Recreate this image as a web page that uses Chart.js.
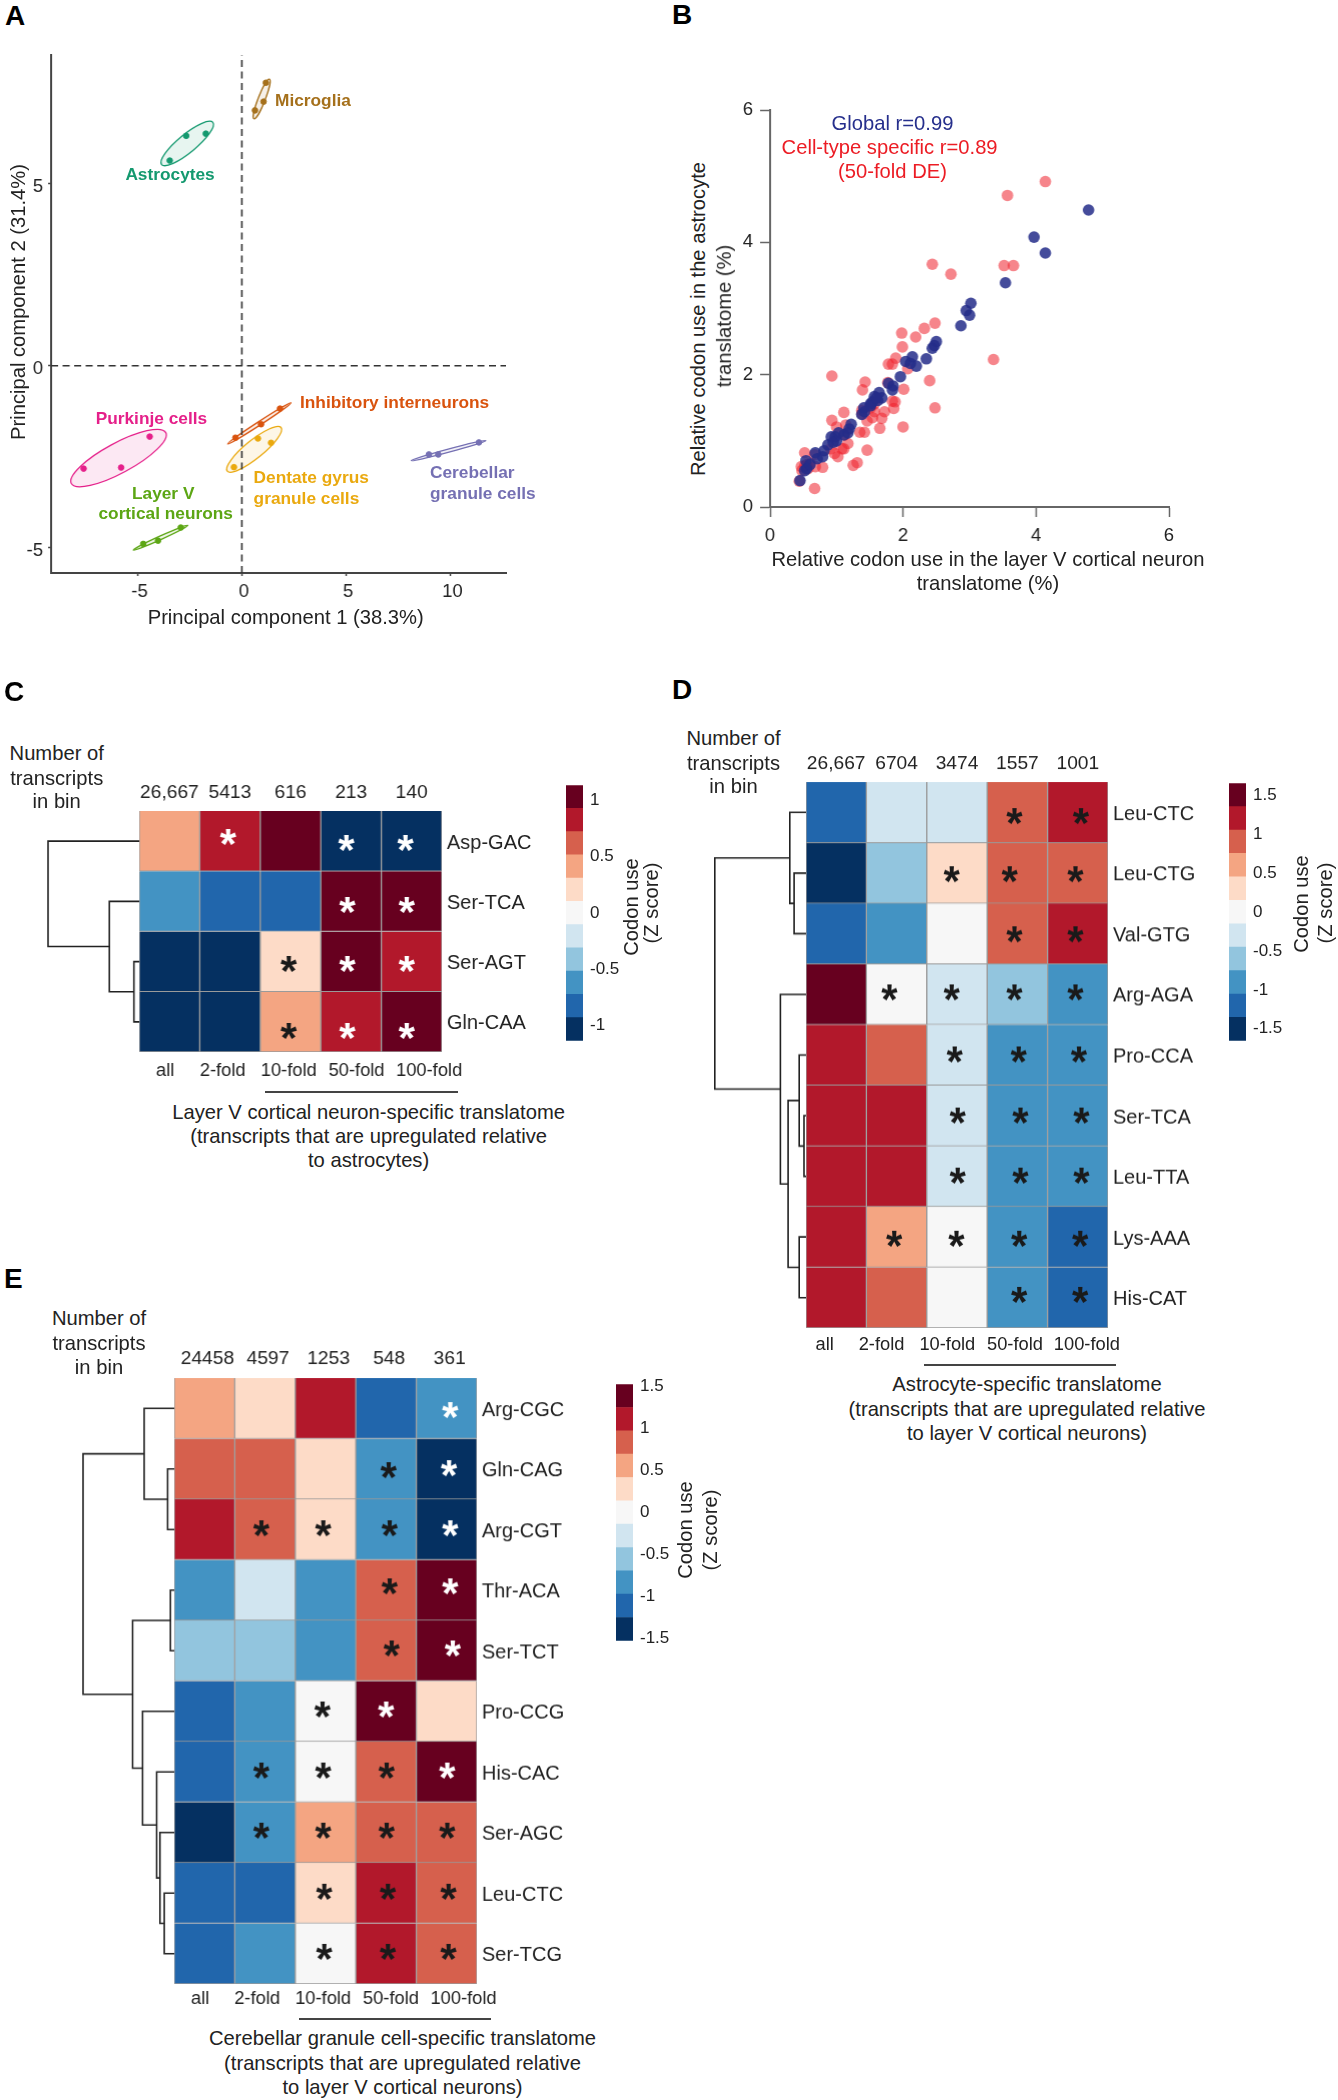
<!DOCTYPE html>
<html>
<head>
<meta charset="utf-8">
<title>Codon use in cell-type-specific translatomes</title>
<style>
  html, body { margin: 0; padding: 0; background: #fff; }
  #page { position: relative; width: 1338px; height: 2100px; overflow: hidden; font-family: "Liberation Sans", Arial, sans-serif; color: #222; }
  canvas { position: absolute; }
  .txt { position: absolute; white-space: nowrap; line-height: 1; }
  .rule { position: absolute; height: 2px; background: #444; }
</style>
<script src="https://cdn.jsdelivr.net/npm/chart.js@4"></script>
</head>
<body>
<div id="page"></div>
<script>
// panel A
const cellTypes = ["Microglia", "Astrocytes", "Inhibitory interneurons", "Dentate gyrus granule cells", "Purkinje cells", "Layer V cortical neurons", "Cerebellar granule cells"];
const pc1Values = [
  [1.15, 1.04, 0.63],
  [-2.67, -1.73, -3.46],
  [1.83, 0.92, -0.31],
  [0.77, 1.40, -0.38],
  [-4.42, -5.79, -7.59],
  [-2.93, -4.02, -4.73],
  [11.37, 9.42, 8.97],
];
const pc2Values = [
  [7.78, 7.26, 7.02],
  [6.32, 6.38, 5.64],
  [-1.18, -1.61, -1.98],
  [-2.0, -2.12, -2.79],
  [-1.95, -2.80, -2.83],
  [-4.45, -4.81, -4.90],
  [-2.11, -2.44, -2.44],
];
// ends of each ellipse's long axis: x1, y1, x2, y2
const ellipseEnds = [
  [1.32, 7.88, 0.58, 6.79],
  [-1.39, 6.69, -3.85, 5.53],
  [2.36, -1.02, -0.68, -2.15],
  [1.88, -1.70, -0.70, -2.90],
  [-3.65, -1.84, -8.18, -3.24],
  [-2.59, -4.39, -5.21, -5.07],
  [11.71, -2.06, 8.12, -2.61],
];
const pcaTicksX = [-5, 0, 5, 10];
const pcaTicksY = [-5, 0, 5];

// panel B
const globalCodonUse = [
  [4.79,4.49],[3.97,4.08],[4.14,3.84],[3.54,3.39],[3.02,3.08],[2.95,2.97],[3.00,2.90],[2.87,2.74],[2.50,2.50],[2.47,2.44],
  [2.44,2.40],[2.35,2.24],[2.14,2.27],[2.04,2.20],[2.11,2.17],[2.20,2.13],[1.96,1.97],[1.85,1.83],[1.78,1.87],[1.84,1.77],
  [1.64,1.73],[1.57,1.67],[1.68,1.65],[1.62,1.61],[1.54,1.59],[1.51,1.56],[1.41,1.50],[1.42,1.44],[1.38,1.40],[1.51,1.53],
  [1.22,1.25],[1.19,1.18],[1.17,1.12],[1.11,1.09],[0.98,1.06],[0.92,1.06],[1.00,1.00],[0.95,0.98],[0.87,0.94],[0.81,0.85],
  [0.79,0.76],[0.68,0.82],[0.71,0.73],[0.54,0.70],[0.55,0.58],[0.52,0.55],[0.45,0.40],[0.60,0.64],[1.03,1.12],[1.60,1.65],
];
const specificCodonUse = [
  [4.14,4.92],[3.57,4.71],[2.44,3.67],[2.72,3.52],[3.52,3.65],[3.66,3.65],[2.48,2.78],[2.32,2.70],[2.19,2.57],[1.98,2.63],
  [1.99,2.42],[1.89,2.25],[3.36,2.23],[1.84,2.16],[1.78,2.16],[2.07,2.09],[2.40,1.91],[0.93,1.98],[1.43,1.89],[1.77,1.88],
  [1.39,1.77],[2.01,1.78],[2.48,1.50],[1.84,1.60],[1.88,1.59],[1.86,1.49],[1.72,1.44],[1.57,1.44],[1.51,1.53],[1.38,1.46],
  [1.68,1.34],[1.54,1.35],[1.46,1.30],[1.11,1.43],[0.93,1.31],[2.00,1.21],[1.65,1.19],[1.00,1.21],[1.14,1.24],[1.12,1.09],
  [1.35,1.13],[1.42,1.13],[1.17,0.96],[1.11,0.88],[0.91,0.88],[0.97,0.81],[1.02,0.76],[1.46,0.86],[1.31,0.67],[1.25,0.63],
  [0.52,0.82],[0.67,0.79],[0.47,0.61],[0.79,0.60],[0.68,0.61],[0.55,0.64],[0.57,0.58],[0.48,0.55],[0.44,0.39],[0.67,0.28],
  [1.38,1.41],[1.51,1.50],[1.08,0.88],[0.60,0.66],[0.52,0.62],[1.57,1.56],
];
const codonTicks = [0, 2, 4, 6];

// heatmaps
const foldLabels = ["all", "2-fold", "10-fold", "50-fold", "100-fold"];
const rampColors = ["#053061", "#2166ac", "#4393c3", "#92c5de", "#d1e5f0", "#f7f7f7", "#fddbc7", "#f4a582", "#d6604d", "#b2182b", "#67001f"];

const codonsC = ["Asp-GAC", "Ser-TCA", "Ser-AGT", "Gln-CAA"];
const countsC = ["26,667", "5413", "616", "213", "140"];
const zScoresC = [
  [0.41, 0.82, 1.03, -1.03, -1.03],
  [-0.62, -0.82, -0.82, 1.03, 1.03],
  [-1.03, -1.03, 0.21, 1.03, 0.82],
  [-1.03, -1.03, 0.41, 0.82, 1.03],
];
const starsC = [
  [1.47,0.40,"w"],[3.42,0.49,"w"],[4.40,0.49,"w"],[3.44,1.53,"w"],[4.42,1.53,"w"],[2.47,2.51,"k"],
  [3.44,2.51,"w"],[4.42,2.51,"w"],[2.47,3.62,"k"],[3.44,3.62,"w"],[4.42,3.62,"w"],
];
const treeC = [91, 0, [29.8, 1, [5.3, 2, 3]]];
const foldTicksC = [0.43, 1.38, 2.47, 3.59, 4.79];
const legendTicksC = [-1, -0.5, 0, 0.5, 1];

const codonsD = ["Leu-CTC", "Leu-CTG", "Val-GTG", "Arg-AGA", "Pro-CCA", "Ser-TCA", "Leu-TTA", "Lys-AAA", "His-CAT"];
const countsD = ["26,667", "6704", "3474", "1557", "1001"];
const zScoresD = [
  [-1.2, -0.3, -0.3, 0.9, 1.2],
  [-1.5, -0.6, 0.3, 0.9, 0.9],
  [-1.2, -0.9, 0, 0.9, 1.2],
  [1.5, 0, -0.3, -0.6, -0.9],
  [1.2, 0.9, -0.3, -0.9, -0.9],
  [1.2, 1.2, -0.3, -0.9, -0.9],
  [1.2, 1.2, -0.3, -0.9, -0.9],
  [1.2, 0.6, 0, -0.9, -1.2],
  [1.2, 0.9, 0, -0.9, -1.2],
];
const starsD = [
  [3.45,0.53,"k"],[4.55,0.53,"k"],[2.41,1.49,"k"],[3.37,1.49,"k"],[4.46,1.49,"k"],[3.45,2.48,"k"],[4.46,2.48,"k"],
  [1.38,3.43,"k"],[2.41,3.43,"k"],[3.45,3.43,"k"],[4.46,3.43,"k"],[2.46,4.46,"k"],[3.52,4.46,"k"],[4.52,4.46,"k"],
  [2.51,5.46,"k"],[3.55,5.46,"k"],[4.56,5.46,"k"],[2.51,6.46,"k"],[3.55,6.46,"k"],[4.56,6.46,"k"],
  [1.46,7.50,"k"],[2.49,7.50,"k"],[3.53,7.50,"k"],[4.54,7.50,"k"],[3.53,8.43,"k"],[4.54,8.43,"k"],
];
const treeD = [91.2, [16.2, 0, [11.9, 1, 2]], [25.6, 3, [17.9, [6.8, 4, [2, 5, 6]], [6.8, 7, 8]]]];
const foldTicksD = [0.31, 1.25, 2.34, 3.46, 4.65];
const legendTicksD = [-1.5, -1, -0.5, 0, 0.5, 1, 1.5];

const codonsE = ["Arg-CGC", "Gln-CAG", "Arg-CGT", "Thr-ACA", "Ser-TCT", "Pro-CCG", "His-CAC", "Ser-AGC", "Leu-CTC", "Ser-TCG"];
const countsE = ["24458", "4597", "1253", "548", "361"];
const zScoresE = [
  [0.56, 0.28, 1.11, -1.11, -0.83],
  [0.83, 0.83, 0.28, -0.83, -1.39],
  [1.11, 0.83, 0.28, -0.83, -1.39],
  [-0.83, -0.28, -0.83, 0.83, 1.39],
  [-0.56, -0.56, -0.83, 0.83, 1.39],
  [-1.11, -0.83, 0, 1.39, 0.28],
  [-1.11, -0.83, 0, 0.83, 1.39],
  [-1.39, -0.83, 0.56, 0.83, 0.83],
  [-1.11, -1.11, 0.28, 1.11, 0.83],
  [-1.11, -0.83, 0, 1.11, 0.83],
];
const starsE = [
  [4.56,0.49,"w"],[3.54,1.48,"k"],[4.54,1.46,"w"],[1.44,2.45,"k"],[2.46,2.45,"k"],[3.56,2.45,"k"],[4.56,2.45,"w"],
  [3.56,3.41,"k"],[4.56,3.41,"w"],[3.59,4.43,"k"],[4.60,4.43,"w"],[2.45,5.44,"k"],[3.50,5.44,"w"],
  [1.44,6.44,"k"],[2.46,6.44,"k"],[3.51,6.44,"k"],[4.51,6.44,"w"],[1.44,7.44,"k"],[2.46,7.44,"k"],[3.51,7.44,"k"],[4.51,7.44,"k"],
  [2.48,8.44,"k"],[3.53,8.44,"k"],[4.53,8.44,"k"],[2.48,9.43,"k"],[3.53,9.43,"k"],[4.53,9.43,"k"],
];
const treeE = [91, [30, 0, [6.6, 1, 2]], [41.5, [3.8, 3, 4], [31.6, 5, [17.5, 6, [14.2, 7, [9.9, 8, 9]]]]]];
const foldTicksE = [0.43, 1.37, 2.46, 3.58, 4.78];
const legendTicksE = [-1.5, -1, -0.5, 0, 0.5, 1, 1.5];

const page = document.getElementById("page");
const FONT = '"Liberation Sans", Arial, sans-serif';
const TEXT_SIZE = 20.2;
const LETTER_SIZE = 28;
const cellColors = ["#a5701b", "#14996f", "#d9530e", "#eaa90f", "#e5208a", "#5ca614", "#7570b3"];
const ellipseMinor = [3.5, 9, 1.8, 9, 15, 1.8, 1.6];

Chart.defaults.font.family = FONT;
Chart.defaults.animation = false;
Chart.defaults.plugins.legend.display = false;
Chart.defaults.plugins.tooltip.enabled = false;

function addText(text, x, y, opts = {}) {
  const el = document.createElement("div");
  el.className = "txt";
  el.textContent = text;
  el.style.left = x + "px";
  el.style.top = y + "px";
  el.style.fontSize = (opts.size || TEXT_SIZE) + "px";
  el.style.color = opts.color || "#222";
  if (opts.bold) el.style.fontWeight = "700";
  const shiftX = opts.align === "left" ? "0" : "-50%";
  el.style.transform = `translate(${shiftX}, -50%)` + (opts.rotate ? ` rotate(${opts.rotate}deg)` : "");
  page.appendChild(el);
}

function addRule(x1, x2, y) {
  const el = document.createElement("div");
  el.className = "rule";
  el.style.left = x1 + "px";
  el.style.width = x2 - x1 + "px";
  el.style.top = y - 1 + "px";
  page.appendChild(el);
}

// canvas sized so the plot area lands on rect, with the given margins round it
function makeCanvas(rect, margin) {
  const canvas = document.createElement("canvas");
  const width = rect.right - rect.left + margin.left + margin.right;
  const height = rect.bottom - rect.top + margin.top + margin.bottom;
  canvas.width = width;
  canvas.height = height;
  canvas.style.left = rect.left - margin.left + "px";
  canvas.style.top = rect.top - margin.top + "px";
  canvas.style.width = width + "px";
  canvas.style.height = height + "px";
  page.appendChild(canvas);
  return canvas;
}

function fixedTicks(values) {
  return (scale) => { scale.ticks = values.map((value) => ({ value })); };
}

function axisOptions(opts) {
  return {
    type: "linear",
    position: opts.position,
    min: opts.min,
    max: opts.max,
    afterBuildTicks: fixedTicks(opts.ticks),
    afterFit: (scale) => {
      if (opts.position === "left") scale.width = opts.size;
      else scale.height = opts.size;
    },
    border: { display: true, color: opts.color, width: 2 },
    grid: { display: true, drawOnChartArea: false, drawTicks: true, tickLength: opts.tickLength, tickColor: opts.color, tickWidth: 1.5 },
    ticks: { autoSkip: false, maxRotation: 0, padding: opts.padding, labelOffset: opts.labelOffset || 0, color: "#222", font: { size: 18.5 }, callback: (value) => String(value) },
  };
}

function toPoints(xs, ys) {
  return xs.map((x, i) => ({ x, y: ys[i] }));
}

const ellipsePlugin = {
  id: "ellipses",
  beforeDatasetsDraw(chart) {
    const { x: xScale, y: yScale } = chart.scales;
    const ctx = chart.ctx;
    ellipseEnds.forEach((ends, i) => {
      const x1 = xScale.getPixelForValue(ends[0]);
      const y1 = yScale.getPixelForValue(ends[1]);
      const x2 = xScale.getPixelForValue(ends[2]);
      const y2 = yScale.getPixelForValue(ends[3]);
      const major = Math.hypot(x2 - x1, y2 - y1) / 2;
      ctx.save();
      ctx.beginPath();
      ctx.ellipse((x1 + x2) / 2, (y1 + y2) / 2, major, ellipseMinor[i], Math.atan2(y2 - y1, x2 - x1), 0, Math.PI * 2);
      ctx.globalAlpha = 0.1;
      ctx.fillStyle = cellColors[i];
      ctx.fill();
      ctx.globalAlpha = 1;
      ctx.strokeStyle = cellColors[i];
      ctx.lineWidth = 1.3;
      ctx.stroke();
      ctx.restore();
    });
  },
};

function renderPcaChart() {
  const rect = { left: 51.4, right: 506, top: 55, bottom: 573 };
  const margin = { left: 51, right: 12, top: 16, bottom: 40 };
  const xMin = -9.15, xMax = 12.67, yMin = -5.7, yMax = 8.54;
  const dash = { type: "scatter", showLine: true, borderColor: "#333", borderWidth: 1.6, borderDash: [7, 4.5], pointRadius: 0 };
  const datasets = [
    { ...dash, data: [{ x: xMin, y: 0 }, { x: xMax, y: 0 }] },
    { ...dash, data: [{ x: 0, y: yMin }, { x: 0, y: yMax }] },
  ];
  cellTypes.forEach((name, i) => {
    datasets.push({ label: name, data: toPoints(pc1Values[i], pc2Values[i]), backgroundColor: cellColors[i], borderColor: cellColors[i], pointRadius: 2.8 });
  });
  new Chart(makeCanvas(rect, margin), {
    type: "scatter",
    data: { datasets },
    options: {
      responsive: false,
      layout: { autoPadding: false, padding: { top: margin.top, right: margin.right } },
      scales: {
        x: axisOptions({ position: "bottom", min: xMin, max: xMax, ticks: pcaTicksX, size: margin.bottom, color: "#444", tickLength: 3, padding: 5, labelOffset: 2 }),
        y: axisOptions({ position: "left", min: yMin, max: yMax, ticks: pcaTicksY, size: margin.left, color: "#444", tickLength: 3, padding: 5, labelOffset: 3 }),
      },
    },
    plugins: [ellipsePlugin],
  });

  addText("A", 5, 15.5, { size: LETTER_SIZE, bold: true, align: "left", color: "#000" });
  addText("Principal component 1 (38.3%)", 285.7, 617);
  addText("Principal component 2 (31.4%)", 18, 302, { rotate: -90 });
  const labelSize = 17.3;
  addText("Microglia", 275, 101, { size: labelSize, bold: true, align: "left", color: cellColors[0] });
  addText("Astrocytes", 125.4, 175, { size: labelSize, bold: true, align: "left", color: cellColors[1] });
  addText("Inhibitory interneurons", 300, 403, { size: labelSize, bold: true, align: "left", color: cellColors[2] });
  addText("Dentate gyrus", 253.6, 477.6, { size: labelSize, bold: true, align: "left", color: cellColors[3] });
  addText("granule cells", 253.6, 498.8, { size: labelSize, bold: true, align: "left", color: cellColors[3] });
  addText("Purkinje cells", 95.7, 418.8, { size: labelSize, bold: true, align: "left", color: cellColors[4] });
  addText("Layer V", 163.2, 493.5, { size: labelSize, bold: true, color: cellColors[5] });
  addText("cortical neurons", 165.7, 514.3, { size: labelSize, bold: true, color: cellColors[5] });
  addText("Cerebellar", 430, 473, { size: labelSize, bold: true, align: "left", color: cellColors[6] });
  addText("granule cells", 430, 494.3, { size: labelSize, bold: true, align: "left", color: cellColors[6] });
}

function renderCodonScatter() {
  const rect = { left: 770, right: 1168.9, top: 107.9, bottom: 507.3 };
  const margin = { left: 40, right: 14, top: 16, bottom: 46 };
  const pairs = (list) => list.map(([x, y]) => ({ x, y }));
  new Chart(makeCanvas(rect, margin), {
    type: "scatter",
    data: {
      datasets: [
        { label: "Global", data: pairs(globalCodonUse), backgroundColor: "rgba(36,45,138,0.85)", pointRadius: 5.8, borderWidth: 0 },
        { label: "Cell-type specific", data: pairs(specificCodonUse), backgroundColor: "rgba(238,32,44,0.55)", pointRadius: 5.8, borderWidth: 0 },
      ],
    },
    options: {
      responsive: false,
      layout: { autoPadding: false, padding: { top: margin.top, right: margin.right } },
      scales: {
        x: axisOptions({ position: "bottom", min: 0, max: 6, ticks: codonTicks, size: margin.bottom, color: "#666", tickLength: 10, padding: 8 }),
        y: axisOptions({ position: "left", min: 0, max: 6, ticks: codonTicks, size: margin.left, color: "#666", tickLength: 10, padding: 7 }),
      },
    },
  });

  addText("B", 672, 15, { size: LETTER_SIZE, bold: true, align: "left", color: "#000" });
  addText("Global r=0.99", 892.5, 122.6, { color: "#262f8c" });
  addText("Cell-type specific r=0.89", 889.6, 146.7, { color: "#ec1c24" });
  addText("(50-fold DE)", 892.5, 171.2, { color: "#ec1c24" });
  addText("Relative codon use in the layer V cortical neuron", 988, 559);
  addText("translatome (%)", 988, 583);
  addText("Relative codon use in the astrocyte", 697.5, 319, { rotate: -90 });
  addText("translatome (%)", 723.6, 316, { rotate: -90 });
}

function cellColor(z, step) {
  return rampColors[Math.round(z / step) + 5];
}

function treePlugin(tree) {
  return {
    id: "tree",
    afterDatasetsDraw(chart) {
      const ctx = chart.ctx;
      const left = chart.chartArea.left;
      const yScale = chart.scales.y;
      const walk = (node) => {
        if (typeof node === "number") return { y: yScale.getPixelForValue(node + 0.5), h: 0 };
        const a = walk(node[1]);
        const b = walk(node[2]);
        const x = left - node[0];
        ctx.beginPath();
        ctx.moveTo(left - a.h, a.y);
        ctx.lineTo(x, a.y);
        ctx.lineTo(x, b.y);
        ctx.lineTo(left - b.h, b.y);
        ctx.stroke();
        return { y: (a.y + b.y) / 2, h: node[0] };
      };
      ctx.save();
      ctx.strokeStyle = "#222";
      ctx.lineWidth = 1.6;
      walk(tree);
      ctx.restore();
    },
  };
}

function starPlugin(stars) {
  return {
    id: "stars",
    afterDatasetsDraw(chart) {
      const ctx = chart.ctx;
      const { x2: xScale, y: yScale } = chart.scales;
      ctx.save();
      ctx.font = `700 42px ${FONT}`;
      ctx.textAlign = "center";
      ctx.textBaseline = "alphabetic";
      stars.forEach(([x, y, tone]) => {
        ctx.fillStyle = tone === "w" ? "#ffffff" : "#1a1a1a";
        ctx.fillText("*", xScale.getPixelForValue(x), yScale.getPixelForValue(y) + 23);
      });
      ctx.restore();
    },
  };
}

function renderHeatmap(cfg) {
  const margin = { left: 100, right: 90, top: 30, bottom: 30 };
  const step = (2 * cfg.range) / 11;
  const rows = cfg.codons.length;
  const datasets = cfg.zScores.map((row, r) => ({
    label: cfg.codons[r],
    data: row.map(() => 1),
    backgroundColor: row.map((z) => cellColor(z, step)),
    borderColor: "#9a9a9a",
    borderWidth: 1,
    barPercentage: 1,
    categoryPercentage: 1,
  }));
  const textAxis = { grid: { display: false, drawTicks: false }, border: { display: false } };
  new Chart(makeCanvas(cfg.rect, margin), {
    type: "bar",
    data: { labels: cfg.counts, datasets },
    options: {
      responsive: false,
      layout: { autoPadding: false, padding: { left: margin.left } },
      scales: {
        x: {
          ...textAxis,
          position: "top",
          stacked: true,
          afterFit: (scale) => { scale.height = margin.top; },
          ticks: { autoSkip: false, maxRotation: 0, padding: cfg.countPad, labelOffset: cfg.countShift, color: "#222", font: { size: 19.2 } },
        },
        x2: {
          ...textAxis,
          type: "linear",
          position: "bottom",
          offset: false,
          min: 0,
          max: foldLabels.length,
          afterBuildTicks: fixedTicks(cfg.foldTicks),
          afterFit: (scale) => { scale.height = margin.bottom; },
          ticks: {
            autoSkip: false,
            maxRotation: 0,
            padding: cfg.foldPad,
            color: "#222",
            font: { size: 18.3 },
            callback: (value, i) => foldLabels[i],
          },
        },
        y: { display: false, stacked: true, reverse: true, min: 0, max: rows },
        y2: {
          ...textAxis,
          type: "category",
          position: "right",
          labels: cfg.codons,
          offset: true,
          afterFit: (scale) => { scale.width = margin.right; },
          ticks: { autoSkip: false, padding: cfg.codonPad, labelOffset: cfg.codonShift, color: "#222", font: { size: 20 } },
        },
      },
    },
    plugins: [treePlugin(cfg.tree), starPlugin(cfg.stars)],
  });
}

function renderColorBar(cfg) {
  const margin = { left: 0, right: 48, top: 16, bottom: 16 };
  const step = (2 * cfg.range) / 11;
  const datasets = rampColors.map((color, i) => ({
    data: [[-cfg.range + i * step, -cfg.range + (i + 1) * step]],
    backgroundColor: color,
    borderWidth: 0,
    barPercentage: 1,
    categoryPercentage: 1,
    grouped: false,
  }));
  new Chart(makeCanvas(cfg.rect, margin), {
    type: "bar",
    data: { labels: ["z"], datasets },
    options: {
      responsive: false,
      layout: { autoPadding: false, padding: { top: margin.top, bottom: margin.bottom } },
      scales: {
        x: { display: false },
        y: {
          type: "linear",
          position: "right",
          min: -cfg.range,
          max: cfg.range,
          afterBuildTicks: fixedTicks(cfg.ticks),
          afterFit: (scale) => { scale.width = margin.right; },
          grid: { display: false, drawTicks: false },
          border: { display: false },
          ticks: { padding: 7, color: "#222", font: { size: 17 }, callback: (value) => String(value) },
        },
      },
    },
  });
}

function addHeader(lines, x, ys) {
  lines.forEach((line, i) => addText(line, x, ys[i]));
}

function renderPanelC() {
  renderHeatmap({
    rect: { left: 138.8, right: 441.6, top: 811, bottom: 1052.1 },
    codons: codonsC, counts: countsC, zScores: zScoresC, stars: starsC, tree: treeC, foldTicks: foldTicksC,
    range: 1.133, countPad: 7, foldPad: 8, codonPad: 5, countShift: 0, codonShift: 2,
  });
  renderColorBar({ rect: { left: 566, right: 583.3, top: 784.4, bottom: 1042.5 }, range: 1.133, ticks: legendTicksC });
  addText("C", 4, 691.6, { size: LETTER_SIZE, bold: true, align: "left", color: "#000" });
  addHeader(["Number of", "transcripts", "in bin"], 56.7, [753, 777.5, 801.3]);
  addRule(265, 457.5, 1092);
  addHeader(["Layer V cortical neuron-specific translatome", "(transcripts that are upregulated relative", "to astrocytes)"], 368.6, [1111.5, 1136, 1160.2]);
  addText("Codon use", 630.6, 907, { rotate: -90 });
  addText("(Z score)", 651, 903, { rotate: -90 });
}

function renderPanelD() {
  renderHeatmap({
    rect: { left: 805.5, right: 1108.4, top: 782.4, bottom: 1327.7 },
    codons: codonsD, counts: countsD, zScores: zScoresD, stars: starsD, tree: treeD, foldTicks: foldTicksD,
    range: 1.655, countPad: 7, foldPad: 6, codonPad: 5, countShift: 0, codonShift: 2,
  });
  renderColorBar({ rect: { left: 1228.6, right: 1246, top: 782, bottom: 1042 }, range: 1.655, ticks: legendTicksD });
  addText("D", 672, 690, { size: LETTER_SIZE, bold: true, align: "left", color: "#000" });
  addHeader(["Number of", "transcripts", "in bin"], 733.5, [737.7, 762.5, 786.4]);
  addRule(923.5, 1116, 1365);
  addHeader(["Astrocyte-specific translatome", "(transcripts that are upregulated relative", "to layer V cortical neurons)"], 1027, [1384.4, 1408.8, 1433.2]);
  addText("Codon use", 1300.6, 903.6, { rotate: -90 });
  addText("(Z score)", 1325, 903, { rotate: -90 });
}

function renderPanelE() {
  renderHeatmap({
    rect: { left: 173.7, right: 476.6, top: 1378.4, bottom: 1984.2 },
    codons: codonsE, counts: countsE, zScores: zScoresE, stars: starsE, tree: treeE, foldTicks: foldTicksE,
    range: 1.53, countPad: 8, foldPad: 4, codonPad: 5, countShift: 3, codonShift: 2,
  });
  renderColorBar({ rect: { left: 616.3, right: 633.3, top: 1382.7, bottom: 1642.4 }, range: 1.53, ticks: legendTicksE });
  addText("E", 4, 1279, { size: LETTER_SIZE, bold: true, align: "left", color: "#000" });
  addHeader(["Number of", "transcripts", "in bin"], 99, [1318.4, 1343, 1367]);
  addRule(299, 491, 2018.5);
  addHeader(["Cerebellar granule cell-specific translatome", "(transcripts that are upregulated relative", "to layer V cortical neurons)"], 402.5, [2038.3, 2063, 2087]);
  addText("Codon use", 685, 1530, { rotate: -90 });
  addText("(Z score)", 710, 1530, { rotate: -90 });
}

renderPcaChart();
renderCodonScatter();
renderPanelC();
renderPanelD();
renderPanelE();
</script>
</body>
</html>
